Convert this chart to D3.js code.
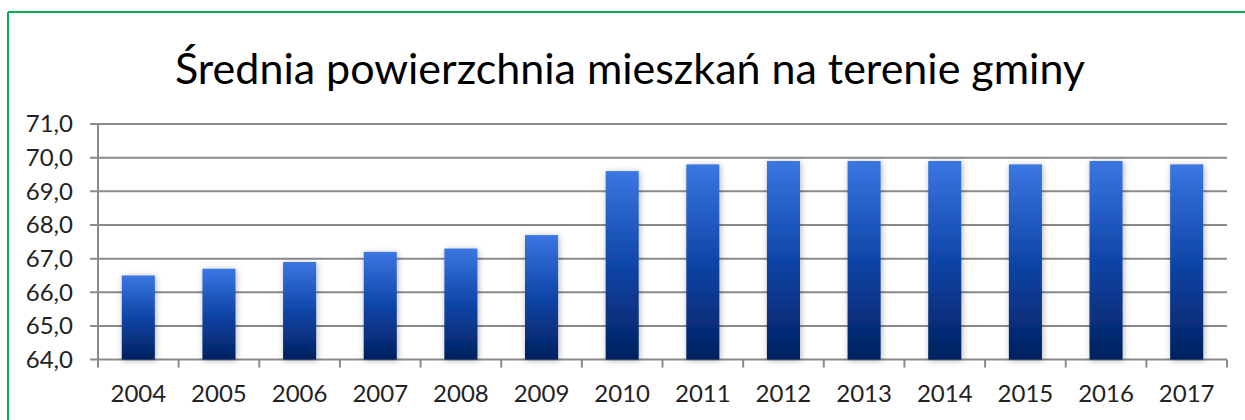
<!DOCTYPE html>
<html><head><meta charset="utf-8">
<script src="https://cdn.jsdelivr.net/npm/d3@7"></script>
<style>body{margin:0;background:#fff}svg{display:block}</style>
</head><body>
<script>
const title = "Średnia powierzchnia mieszkań na terenie gminy";
const years = ["2004","2005","2006","2007","2008","2009","2010","2011","2012","2013","2014","2015","2016","2017"];
const values = [66.5,66.7,66.9,67.2,67.3,67.7,69.6,69.8,69.9,69.9,69.9,69.8,69.9,69.8];
const yTicks = [64,65,66,67,68,69,70,71];

const W=1245,H=420;
const svg=d3.select("body").append("svg").attr("width",W).attr("height",H);
const defs=svg.append("defs");
const g=defs.append("linearGradient").attr("id","bg").attr("x1",0).attr("y1",0).attr("x2",0).attr("y2",1);
g.append("stop").attr("offset","0%").attr("stop-color","#3b76e2");
g.append("stop").attr("offset","50%").attr("stop-color","#0f45a8");
g.append("stop").attr("offset","100%").attr("stop-color","#02215f");
const f=defs.append("filter").attr("id","sh").attr("x","-30%").attr("y","-10%").attr("width","160%").attr("height","130%");
f.append("feDropShadow").attr("dx",1).attr("dy",1).attr("stdDeviation",3).attr("flood-color","#000").attr("flood-opacity",0.3);

// border
svg.append("line").attr("x1",8).attr("x2",8).attr("y1",12).attr("y2",H).attr("stroke","#00b050").attr("stroke-width",2);
svg.append("line").attr("x1",8).attr("x2",W).attr("y1",12).attr("y2",12).attr("stroke","#00b050").attr("stroke-width",2);

const x0=98,x1=1227,yTop=124,yBot=359.6;
const x=d3.scaleBand().domain(years).range([x0,x1]).paddingInner(0.59).paddingOuter(0.295);
const xb=d3.scaleBand().domain(years).range([x0,x1]);
const y=d3.scaleLinear().domain([64,71]).range([yBot,yTop]);

// gridlines
svg.append("g").selectAll("line").data(yTicks).join("line")
 .attr("x1",90).attr("x2",x1).attr("y1",d=>y(d)).attr("y2",d=>y(d))
 .attr("stroke","#8a8a8a").attr("stroke-width",2);

// y axis line
svg.append("line").attr("x1",x0).attr("x2",x0).attr("y1",yTop).attr("y2",yBot+8).attr("stroke","#8a8a8a").attr("stroke-width",2);
// x ticks
svg.append("g").selectAll("line").data(years).join("line")
 .attr("x1",d=>xb(d)+xb.bandwidth()).attr("x2",d=>xb(d)+xb.bandwidth())
 .attr("y1",yBot).attr("y2",yBot+8).attr("stroke","#8a8a8a").attr("stroke-width",2);

// bars
svg.append("g").selectAll("rect").data(values).join("rect")
 .attr("x",(d,i)=>x(years[i])).attr("width",x.bandwidth())
 .attr("y",d=>y(d)).attr("height",d=>y(64)-y(d))
 .attr("fill","url(#bg)").attr("filter","url(#sh)");

// y labels
svg.append("g").selectAll("text").data(yTicks).join("text")
 .attr("x",73).attr("y",d=>y(d)).attr("dy","0.35em").attr("text-anchor","end")
 .style("font-family","Lato, 'Open Sans', sans-serif").style("font-size","24px").attr("fill","#222")
 .text(d=>d3.format(".1f")(d).replace(".",","));

// x labels
svg.append("g").selectAll("text").data(years).join("text")
 .attr("x",d=>xb(d)+xb.bandwidth()/2).attr("y",402).attr("text-anchor","middle")
 .style("font-family","Lato, 'Open Sans', sans-serif").style("font-size","24px").attr("fill","#222")
 .text(d=>d);

// title
svg.append("text").attr("x",630).attr("y",84).attr("text-anchor","middle")
 .style("font-family","Lato, 'Open Sans', sans-serif").style("font-size","42px").attr("fill","#000")
 .attr("textLength",910).attr("lengthAdjust","spacingAndGlyphs")
 .text(title);
</script>
</body></html>
